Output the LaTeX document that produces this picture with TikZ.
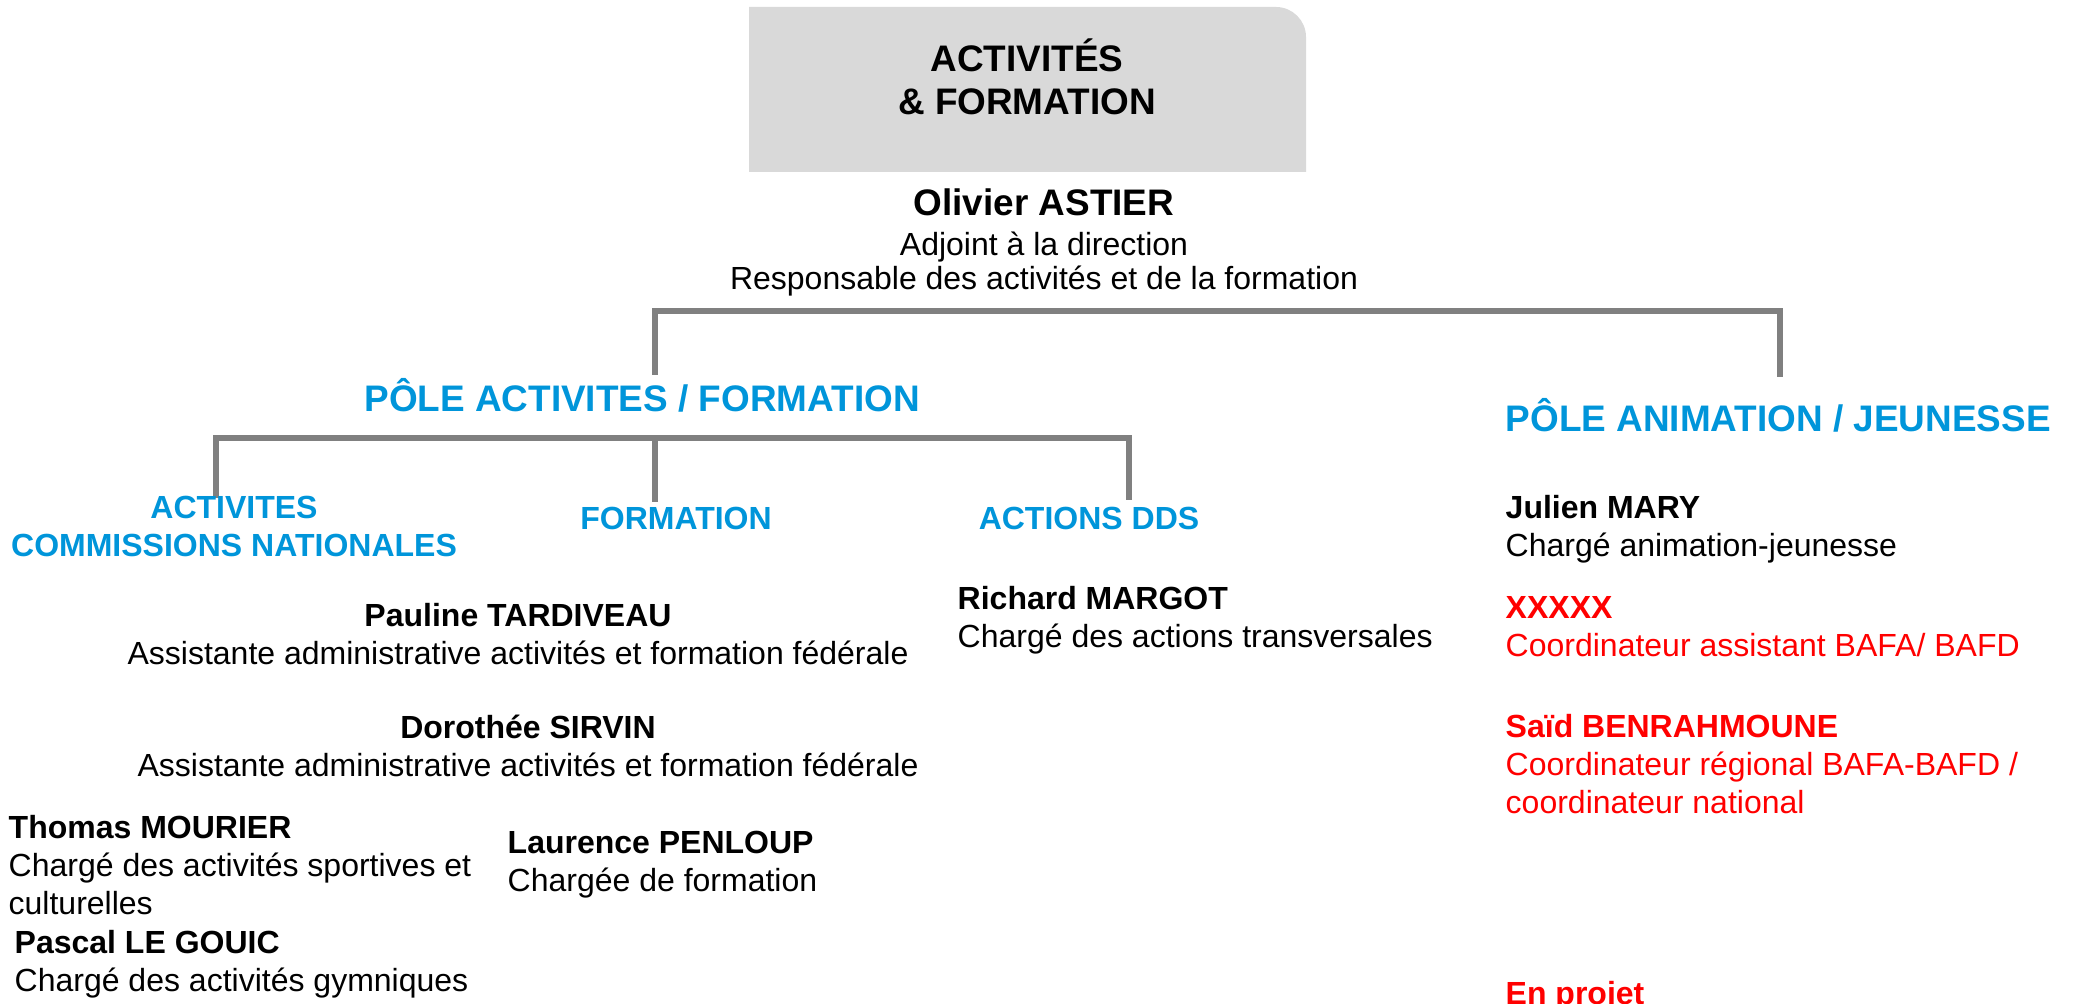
\documentclass[tikz,border=0pt]{standalone}
\usepackage{fontspec}
\setmainfont{Liberation Sans}
\usetikzlibrary{positioning}

\definecolor{boxgray}{RGB}{217,217,217}
\definecolor{linegray}{RGB}{128,128,128}
\definecolor{poleblue}{RGB}{0,149,218}
\definecolor{todored}{RGB}{255,0,0}

\tikzset{
  link/.style={draw=linegray, line width=1.5pt},
  head/.style={font=\fontsize{10.5}{12.5}\selectfont\bfseries, inner sep=0pt, align=center},
  pole/.style={head, text=poleblue},
  unit/.style={font=\fontsize{9.1}{10.9}\selectfont\bfseries, text=poleblue, inner sep=0pt, align=center},
  person/.style={font=\fontsize{9.1}{10.9}\selectfont, inner sep=0pt, align=left, anchor=base west},
  personc/.style={person, align=center, anchor=base},
}

\begin{document}
\begin{tikzpicture}[x=0.01cm, y=-0.01cm]
  \useasboundingbox (0,0) rectangle (2075,1004);

  % title box (multi-line nodes sit on their last line)
  \fill[boxgray] (749,172) -- (749,7) -- (1276,7)
    .. controls (1292.5,7) and (1306,20.5) .. (1306,37) -- (1306,172) -- cycle;
  \node[head, anchor=base] (dept) at (1027,115) {ACTIVITÉS\\\& FORMATION};
  \node[head, anchor=base] (astier) at (1044,216) {Olivier ASTIER};
  \node[personc, font=\fontsize{9.1}{9.9}\selectfont] (astierrole) at (1044,290)
    {Adjoint à la direction\\Responsable des activités et de la formation};

  % top split
  \coordinate (barL) at (655,311);
  \coordinate (barR) at (1780,311);
  \coordinate (toaf) at (655,375);
  \coordinate (toaj) at (1780,377);
  \draw[link] (toaf) -- (barL) -- (barR) -- (toaj);

  % pole activites / formation
  \node[pole, anchor=base] (poleaf) at (642,412) {PÔLE ACTIVITES / FORMATION};

  \coordinate (splitL) at (216,438);
  \coordinate (splitR) at (1129,438);
  \coordinate (tocn) at (216,498);
  \coordinate (tofo) at (655,502);
  \coordinate (todds) at (1129,500);
  \draw[link] (tocn) -- (splitL) -- (splitR) -- (todds);
  \draw[link] (tofo) -- (tofo |- splitL);

  \node[unit, anchor=base] (commissions) at (234,557) {ACTIVITES\\COMMISSIONS NATIONALES};
  \node[unit, anchor=base] (formation) at (676,530) {FORMATION};
  \node[unit, anchor=base] (dds) at (1089,530) {ACTIONS DDS};

  \node[person] (margot) at (957,648)
    {\textbf{Richard MARGOT}\\Chargé des actions transversales};
  \node[personc] (tardiveau) at (518,665)
    {\textbf{Pauline TARDIVEAU}\\Assistante administrative activités et formation fédérale};
  \node[personc] (sirvin) at (528,777)
    {\textbf{Dorothée SIRVIN}\\Assistante administrative activités et formation fédérale};
  \node[person] (mourier) at (8,915)
    {\textbf{Thomas MOURIER}\\Chargé des activités sportives et\\culturelles};
  \node[person] (legouic) at (14,992)
    {\textbf{Pascal LE GOUIC}\\Chargé des activités gymniques};
  \node[person] (penloup) at (507,892)
    {\textbf{Laurence PENLOUP}\\Chargée de formation};

  % pole animation / jeunesse
  \node[pole, anchor=base west] (poleaj) at (1505,432) {PÔLE ANIMATION / JEUNESSE};
  \node[person] (mary) at (1505,557)
    {\textbf{Julien MARY}\\Chargé animation-jeunesse};
  \node[person, text=todored] (xxxxx) at (1505,657)
    {\textbf{XXXXX}\\Coordinateur assistant BAFA/ BAFD};
  \node[person, text=todored] (benrahmoune) at (1505,814)
    {\textbf{Saïd BENRAHMOUNE}\\Coordinateur régional BAFA-BAFD /\\coordinateur national};
  \node[person, text=todored] (projet) at (1505,1005) {\textbf{En projet}};
\end{tikzpicture}
\end{document}
